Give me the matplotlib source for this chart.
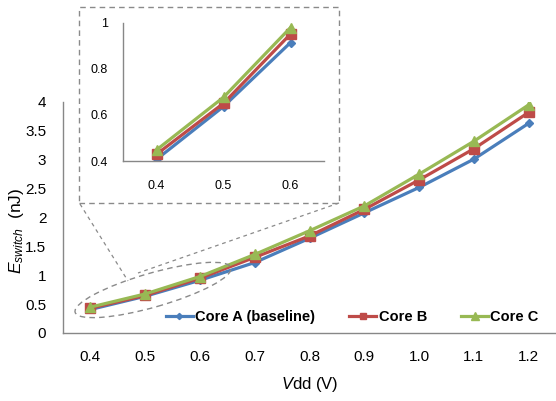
import matplotlib
matplotlib.use("Agg")
import matplotlib.pyplot as plt
from matplotlib.patches import Rectangle, Ellipse
from matplotlib.lines import Line2D

plt.rcParams['font.family'] = ['Liberation Sans', 'DejaVu Sans']
plt.rcParams['mathtext.fontset'] = 'custom'
plt.rcParams['mathtext.it'] = 'Liberation Sans:italic'
plt.rcParams['mathtext.rm'] = 'Liberation Sans'

# ---- data ----
vdd_labels = ["0.4", "0.5", "0.6", "0.7", "0.8", "0.9", "1.0", "1.1", "1.2"]
core_a = [0.407, 0.636, 0.913, 1.22, 1.64, 2.08, 2.52, 3.01, 3.63]
core_b = [0.429, 0.650, 0.950, 1.31, 1.68, 2.14, 2.65, 3.19, 3.82]
core_c = [0.448, 0.676, 0.978, 1.36, 1.77, 2.20, 2.75, 3.32, 3.95]
series_names = ["Core A (baseline)", "Core B", "Core C"]
main_yticks = [0, 0.5, 1, 1.5, 2, 2.5, 3, 3.5, 4]
main_yticklabels = ["0", "0.5", "1", "1.5", "2", "2.5", "3", "3.5", "4"]
inset_n = 3
inset_yticks = [0.4, 0.6, 0.8, 1.0]
inset_yticklabels = ["0.4", "0.6", "0.8", "1"]

colors = ["#4A7EBB", "#BE4B48", "#98B954"]
markers = ["D", "s", "^"]
msizes = [4.5, 6.5, 7.5]

W, H = 556, 401
fig = plt.figure(figsize=(W / 100, H / 100), dpi=100)

def fx(px):
    return px / W

def fy(py):
    return 1 - py / H

spine_col = "#878787"
deco_col = "#8a8a8a"

# ---- main axes ----
ax = fig.add_axes([fx(63), fy(333), fx(556) - fx(63), fy(102) - fy(333)])
x = list(range(len(vdd_labels)))
for vals, c, m, ms, name in zip([core_a, core_b, core_c], colors, markers, msizes, series_names):
    ax.plot(x, vals, color=c, lw=2.3, marker=m, ms=ms, mec=c, mfc=c, label=name)
ax.set_xlim(-0.5, len(vdd_labels) - 0.5)
ax.set_ylim(0, 4)
ax.set_xticks(x)
ax.set_xticklabels(vdd_labels)
ax.set_yticks(main_yticks)
ax.set_yticklabels(main_yticklabels)
for s in ["top", "right"]:
    ax.spines[s].set_visible(False)
for s in ["left", "bottom"]:
    ax.spines[s].set_color(spine_col)
    ax.spines[s].set_linewidth(1.0)
ax.tick_params(axis="both", length=0, labelsize=11, colors="black")
ax.tick_params(axis="y", pad=12)
ax.tick_params(axis="x", pad=12)
ax.patch.set_alpha(0)

handles = [Line2D([0], [0], color=c, lw=2.3, marker=m, ms=ms * 0.7, mec=c, mfc=c)
           for c, m, ms in zip(colors, markers, msizes)]
leg = fig.legend(handles, series_names, loc="center left",
                 bbox_to_anchor=(fx(166), fy(317)), ncol=3, frameon=False,
                 prop={"weight": "bold", "size": 10.5}, handlelength=1.85,
                 handletextpad=0.15, columnspacing=2.35, borderpad=0, borderaxespad=0)

fig.text(fx(17), fy(231), r"$E_{switch}$  (nJ)", rotation=90, ha="center", va="center", fontsize=12.5)
fig.text(fx(310), fy(385), r"$V$dd (V)", ha="center", va="center", fontsize=12)

# ---- zoom decorations ----
dash = (0, (4, 3))
box = Rectangle((fx(79), fy(203)), fx(339) - fx(79), fy(7) - fy(203), transform=fig.transFigure,
                fill=False, ec=deco_col, lw=1.0, linestyle=dash)
fig.add_artist(box)
ell = Ellipse((153 / 100, (H - 290) / 100), width=1.62, height=0.34, angle=16,
              transform=fig.dpi_scale_trans, fill=False, ec=deco_col, lw=1.0, linestyle=dash)
fig.add_artist(ell)
fig.add_artist(Line2D([fx(80), fx(128)], [fy(204), fy(281)], transform=fig.transFigure,
                      color=deco_col, lw=0.9, linestyle=(0, (3, 3))))
fig.add_artist(Line2D([fx(339), fx(138)], [fy(203), fy(273)], transform=fig.transFigure,
                      color=deco_col, lw=0.9, linestyle=(0, (3, 3))))

# ---- inset ----
ia = fig.add_axes([fx(123), fy(161), fx(324) - fx(123), fy(22.5) - fy(161)])
xi = list(range(inset_n))
for vals, c, m, ms in zip([core_a, core_b, core_c], colors, markers, msizes):
    ia.plot(xi, vals[:inset_n], color=c, lw=2.3, marker=m, ms=ms, mec=c, mfc=c)
ia.set_xlim(-0.5, inset_n - 0.5)
ia.set_ylim(0.4, 1.0)
ia.set_xticks(xi)
ia.set_xticklabels(vdd_labels[:inset_n])
ia.set_yticks(inset_yticks)
ia.set_yticklabels(inset_yticklabels)
for s in ["top", "right"]:
    ia.spines[s].set_visible(False)
for s in ["left", "bottom"]:
    ia.spines[s].set_color(spine_col)
    ia.spines[s].set_linewidth(1.0)
ia.tick_params(axis="both", length=0, labelsize=9, colors="black")
ia.tick_params(axis="y", pad=11)
ia.tick_params(axis="x", pad=14)
ia.patch.set_alpha(0)

fig.savefig("out.png", dpi=100)
